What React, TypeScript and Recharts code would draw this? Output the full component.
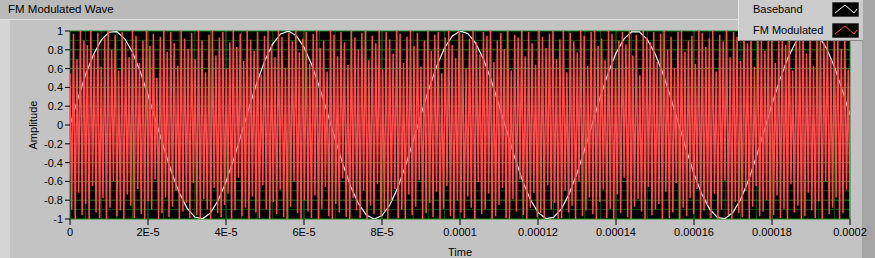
import React from "react";
import { CartesianGrid, Line, LineChart, XAxis, YAxis } from "recharts";

const basebandStep = 0.000002;
const basebandValues = [
  0, 0.278, 0.534, 0.748, 0.903, 0.987, 0.993, 0.92, 0.776, 0.569,
  0.319, 0.043, -0.237, -0.497, -0.719, -0.884, -0.979, -0.997, -0.937, -0.801,
  -0.605, -0.36, -0.086, 0.195, 0.46, 0.688, 0.863, 0.969, 0.999, 0.951,
  0.827, 0.639, 0.399, 0.129, -0.153, -0.421, -0.656, -0.84, -0.958, -1,
  -0.963, -0.851, -0.67, -0.438, -0.17, 0.11, 0.381, 0.624, 0.816, 0.945,
  0.999, 0.974, 0.872, 0.702, 0.476, 0.213, -0.066, -0.342, -0.589, -0.791,
  -0.93, -0.995, -0.983, -0.893, -0.731, -0.514, -0.255, 0.024, 0.301, 0.555,
  0.764, 0.913, 0.991, 0.99, 0.911, 0.76, 0.551, 0.296, 0.019, -0.26,
  -0.518, -0.735, -0.895, -0.984, -0.995, -0.928, -0.788, -0.585, -0.337, -0.061,
  0.218, 0.48, 0.706, 0.875, 0.975, 0.998, 0.943, 0.813, 0.62, 0.376,
  0.105,
];

const fmPeaks = [
  0.55, 0.97, 0.7, 1, 0.9, 0.85, 1, 0.75, 0.98, 0.62,
  0.93, 1, 0.8, 0.96, 0.58, 0.99, 0.88, 0.72, 1, 0.95,
  0.66, 0.9, 1, 0.84, 0.97, 0.5, 0.94, 1, 0.78, 0.99,
  0.87, 0.63, 1, 0.92, 0.81, 0.98, 0.7, 1, 0.9, 0.56,
  0.96, 1, 0.74, 0.93, 0.99, 0.6, 0.88, 1, 0.83, 0.97,
  0.68, 1, 0.91, 0.79, 0.99, 0.54, 0.95, 1, 0.86, 0.72,
  1, 0.94, 0.61, 0.98, 0.89, 1, 0.77, 0.92, 0.99, 0.65,
  0.97, 1, 0.82, 0.9, 0.57, 1, 0.96, 0.73, 0.99, 0.88,
  0.64, 1, 0.93, 0.8, 0.98, 1, 0.69, 0.95, 0.87, 1,
  0.59, 0.99, 0.91, 0.76, 1, 0.97, 0.66, 0.94, 1, 0.84,
  0.98, 0.62, 0.9, 1, 0.79, 0.96, 0.99, 0.55, 0.93, 1,
  0.85, 0.71, 1, 0.97, 0.6, 0.92, 1, 0.88, 0.75, 0.99,
  0.95, 1, 0.67, 0.9, 0.98, 0.81, 1, 0.58, 0.96, 0.93,
  1, 0.73, 0.99, 0.87, 0.64, 1, 0.94, 0.82, 0.97, 1,
  0.7, 0.91, 1, 0.56, 0.98, 0.89, 0.77, 1, 0.95, 0.63,
  0.99, 1, 0.84, 0.92, 0.69, 1, 0.97, 0.6, 0.9, 0.99,
  0.86, 1, 0.74, 0.96, 0.53, 1, 0.93, 0.88, 0.99, 0.67,
  0.97, 1, 0.8, 0.94, 0.61, 0.99, 1, 0.78, 0.9, 0.95,
  0.65, 1, 0.98, 0.83, 0.92, 1, 0.57, 0.96, 0.89, 1,
  0.72, 0.99, 0.94, 0.68, 1, 0.87, 0.97, 0.62, 1, 0.91,
  0.79, 0.98, 1, 0.66, 0.93, 0.99, 0.85, 1, 0.58, 0.95,
  0.9, 1, 0.76, 0.97, 0.63, 1, 0.92, 0.88, 0.99, 0.7,
  1, 0.96, 0.81, 0.94, 0.59,
];

const fmTroughs = [
  -0.9, -1, -0.72, -0.96, -0.84, -1, -0.65, -0.93, -0.99, -0.78,
  -1, -0.88, -0.6, -0.97, -0.91, -1, -0.74, -0.86, -0.99, -0.68,
  -0.95, -1, -0.81, -0.9, -0.58, -1, -0.94, -0.77, -0.98, -0.87,
  -0.7, -1, -0.92, -0.83, -0.99, -0.62, -0.96, -1, -0.79, -0.9,
  -1, -0.67, -0.94, -0.98, -0.85, -0.73, -1, -0.91, -0.56, -0.97,
  -0.88, -1, -0.76, -0.93, -0.99, -0.64, -0.9, -1, -0.82, -0.95,
  -0.69, -0.98, -1, -0.87, -0.6, -0.94, -1, -0.8, -0.92, -0.99,
  -0.75, -1, -0.89, -0.66, -0.97, -1, -0.84, -0.93, -0.57, -0.98,
  -1, -0.78, -0.91, -0.99, -0.7, -1, -0.86, -0.95, -0.63, -0.97,
  -0.92, -1, -0.81, -0.68, -0.99, -0.9, -1, -0.74, -0.96, -0.87,
  -0.59, -1, -0.94, -0.83, -0.98, -0.71, -1, -0.89, -0.65, -0.97,
  -1, -0.8, -0.93, -0.99, -0.76, -0.88, -1, -0.61, -0.95, -0.9,
  -0.73, -1, -0.97, -0.85, -0.67, -0.99, -1, -0.79, -0.92, -0.58,
  -0.96, -1, -0.88, -0.72, -0.98, -0.94, -1, -0.64, -0.9, -0.83,
  -1, -0.99, -0.7, -0.93, -0.86, -1, -0.6, -0.97, -0.91, -0.77,
  -0.95, -1, -0.82, -0.69, -0.99, -0.89, -1, -0.74, -0.94, -0.56,
  -0.98, -1, -0.87, -0.79, -0.92, -1, -0.66, -0.96, -0.9, -0.84,
  -1, -0.71, -0.99, -0.93, -0.62, -1, -0.88, -0.97, -0.78, -0.95,
  -0.68, -1, -0.91, -0.85, -0.99, -0.73, -1, -0.9, -0.59, -0.96,
  -1, -0.82, -0.94, -0.98, -0.7, -1, -0.87, -0.65, -0.97, -0.92,
  -0.8, -1, -0.96, -0.75, -0.99, -0.89, -1, -0.63, -0.93, -0.86,
  -1, -0.97, -0.72, -0.91, -0.99, -0.81, -1, -0.6, -0.95, -0.88,
  -0.77, -1, -0.94, -0.69, -0.98,
];

const timeSpan = 0.0002;
const xTicks = [0, 0.00002, 0.00004, 0.00006, 0.00008, 0.0001, 0.00012, 0.00014, 0.00016, 0.00018, 0.0002];
const xTickLabels = ["0", "2E-5", "4E-5", "6E-5", "8E-5", "0.0001", "0.00012", "0.00014", "0.00016", "0.00018", "0.0002"];
const xMinorGrid = [
  0.000004, 0.000008, 0.000012, 0.000016, 0.000024, 0.000028, 0.000032, 0.000036,
  0.000044, 0.000048, 0.000052, 0.000056, 0.000064, 0.000068, 0.000072, 0.000076,
  0.000084, 0.000088, 0.000092, 0.000096, 0.000104, 0.000108, 0.000112, 0.000116,
  0.000124, 0.000128, 0.000132, 0.000136, 0.000144, 0.000148, 0.000152, 0.000156,
  0.000164, 0.000168, 0.000172, 0.000176, 0.000184, 0.000188, 0.000192, 0.000196,
];
const yTicks = [-1, -0.8, -0.6, -0.4, -0.2, 0, 0.2, 0.4, 0.6, 0.8, 1];
const yMinorGrid = [-0.9, -0.7, -0.5, -0.3, -0.1, 0.1, 0.3, 0.5, 0.7, 0.9];

const basebandData = basebandValues.map((v, i) => ({ t: i * basebandStep, v }));
const fmSeries = fmPeaks.flatMap((p, i) => [p, fmTroughs[i]]);
const fmStep = timeSpan / (fmSeries.length - 1);
const fmData = fmSeries.map((v, i) => ({ t: i * fmStep, v }));

const font = "'Liberation Sans', Arial, sans-serif";
const tickStyle = { fill: "#000", fontSize: 11, fontFamily: font };

const formatX = (value: number) => {
  const idx = xTicks.findIndex((t) => Math.abs(t - value) < 1e-9);
  return idx >= 0 ? xTickLabels[idx] : String(value);
};

const Swatch = ({ color }: { color: string }) => (
  <svg width={27} height={15} style={{ display: "block" }}>
    <rect x={0} y={0} width={27} height={15} fill="#000" stroke="#888" />
    <polyline points="3,11 13,3 22,11 25,7" fill="none" stroke={color} strokeWidth={1} />
  </svg>
);

export default function App() {
  return (
    <div
      style={{
        position: "absolute",
        left: 0,
        top: 0,
        width: 875,
        height: 258,
        background: "#b9b9b9",
        fontFamily: font,
        overflow: "hidden",
      }}
    >
      <div style={{ position: "absolute", left: 8, top: 3, fontSize: 11.5, color: "#000" }}>
        FM Modulated Wave
      </div>
      <div
        style={{
          position: "absolute",
          left: 0,
          top: 19,
          width: 862,
          height: 239,
          background: "#c3c3c3",
          borderTop: "1px solid #e2e2e2",
        }}
      />
      <div style={{ position: "absolute", left: 0, top: 20, width: 10, height: 238, background: "#d5d5d5" }} />
      <div style={{ position: "absolute", left: 862, top: 0, width: 13, height: 258, background: "#a5a5a5" }} />

      <div style={{ position: "absolute", left: 0, top: 0 }}>
        <LineChart width={875} height={258} margin={{ top: 31, right: 25, bottom: 0, left: 0 }}>
          <CartesianGrid
            fill="#000"
            stroke="#0d560d"
            horizontalValues={yMinorGrid}
            verticalValues={xMinorGrid}
          />
          <CartesianGrid stroke="#1d861d" horizontalValues={yTicks} verticalValues={xTicks} />
          <XAxis
            dataKey="t"
            type="number"
            domain={[0, timeSpan]}
            ticks={xTicks}
            tickFormatter={formatX}
            interval={0}
            height={39}
            tick={tickStyle}
            tickSize={6}
            tickMargin={3}
            tickLine={{ stroke: "#000" }}
            axisLine={false}
            allowDataOverflow
            label={{ value: "Time", position: "insideBottom", offset: 2, fill: "#000", fontSize: 11, fontFamily: font }}
          />
          <YAxis
            type="number"
            domain={[-1, 1]}
            ticks={yTicks}
            interval={0}
            width={70}
            tick={tickStyle}
            tickSize={5}
            tickMargin={2}
            tickLine={{ stroke: "#000" }}
            axisLine={false}
            allowDataOverflow
            label={{
              content: ({ viewBox }: any) => (
                <text
                  x={viewBox.x + 33}
                  y={viewBox.y + viewBox.height / 2}
                  transform={`rotate(-90 ${viewBox.x + 33} ${viewBox.y + viewBox.height / 2})`}
                  textAnchor="middle"
                  dominantBaseline="central"
                  fontSize={11}
                  fontFamily={font}
                  fill="#000"
                >
                  Amplitude
                </text>
              ),
            }}
          />
          <Line
            data={basebandData}
            dataKey="v"
            type="linear"
            stroke="#ffffff"
            strokeWidth={1.2}
            dot={false}
            isAnimationActive={false}
          />
          <Line
            data={fmData}
            dataKey="v"
            type="linear"
            stroke="#ff4d4d"
            strokeWidth={1.5}
            dot={false}
            isAnimationActive={false}
          />
        </LineChart>
      </div>

      <div
        style={{
          position: "absolute",
          left: 738,
          top: 0,
          width: 124,
          height: 40,
          background: "#cbcbcb",
          borderLeft: "1px solid #e6e6e6",
          borderBottom: "1px solid #8a8a8a",
          fontSize: 11,
          color: "#000",
        }}
      >
        <div style={{ position: "absolute", left: 14, top: 3 }}>Baseband</div>
        <div style={{ position: "absolute", left: 93, top: 2 }}>
          <Swatch color="#ffffff" />
        </div>
        <div style={{ position: "absolute", left: 14, top: 24 }}>FM Modulated</div>
        <div style={{ position: "absolute", left: 93, top: 23 }}>
          <Swatch color="#ff4d4d" />
        </div>
      </div>
    </div>
  );
}
